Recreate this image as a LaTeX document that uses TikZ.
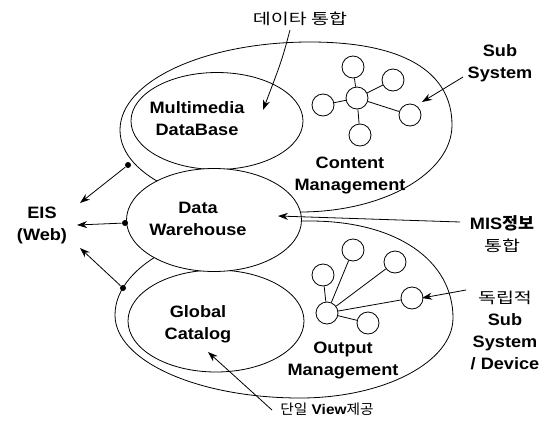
\documentclass[tikz,border=0pt]{standalone}
\usepackage{fontspec}
\setmainfont{Liberation Sans}[FakeStretch=1.1]
\newfontfamily\kr{Noto Sans CJK KR}[FakeStretch=1.3]
\newfontfamily\krn{Noto Sans CJK KR}[FakeStretch=1.05]
\usetikzlibrary{shapes.geometric,arrows.meta}
\begin{document}
\begin{tikzpicture}[x=1pt,y=-1pt,
  line width=0.8pt,
  lbl/.style={font=\fontsize{16.5}{22}\selectfont\bfseries, align=center, inner sep=0pt},
  krl/.style={font=\fontsize{15}{22}\selectfont\kr, align=center, inner sep=0pt},
  inner/.style={ellipse, draw, fill=white, inner sep=0pt},
  sat/.style={circle, draw, fill=white, minimum size=22pt, inner sep=0pt},
  arr/.style={-{Stealth[length=10pt,width=7pt]}},
  dot/.style={circle, fill=black, minimum size=6pt, inner sep=0pt}]
\path[use as bounding box] (0,0) rectangle (550,424);
% big outer shapes
\draw (120,130) .. controls (120,81) and (205,42) .. (310,42)
  .. controls (402,42) and (452,71) .. (452,125)
  .. controls (452,173) and (384,212) .. (300,212)
  .. controls (200,212) and (120,178) .. cycle;
\draw (115,315) .. controls (115,263) and (198,221) .. (310,221)
  .. controls (396,221) and (453,260) .. (453,318)
  .. controls (453,362) and (384,398) .. (300,398)
  .. controls (198,398) and (115,361) .. cycle;
% inner ellipses
\node[inner, minimum width=172pt, minimum height=97pt] (mdb) at (217,121) {};
\node[inner, minimum width=176pt, minimum height=102pt] (gc) at (216,321) {};
\node[inner, minimum width=175pt, minimum height=103pt] (dw) at (214,220) {};
% labels inside
\node[lbl] (tmdb) at (197,119) {Multimedia\\DataBase};
\node[lbl] (tdw) at (198,219) {Data\\Warehouse};
\node[lbl] (tgc) at (198,324) {Global\\Catalog};
\node[lbl] (tcm) at (350,175) {Content\\Management};
\node[lbl] (tom) at (343,360) {Output\\Management};
% top subsystem
\node[sat] (h1) at (357,98) {};
\node[sat] (a1) at (353,67) {};
\node[sat] (a2) at (393,80) {};
\node[sat] (a3) at (323,105) {};
\node[sat] (a4) at (410,115) {};
\node[sat] (a5) at (360,135) {};
\foreach \s in {a1,a2,a3,a4,a5} \draw (h1) -- (\s);
% bottom subsystem
\node[sat] (h2) at (327,313) {};
\node[sat] (b1) at (323,275) {};
\node[sat] (b2) at (353,250) {};
\node[sat] (b3) at (395,262) {};
\node[sat] (b4) at (412,298) {};
\node[sat] (b5) at (368,323) {};
\foreach \s in {b1,b2,b3,b4,b5} \draw (h2) -- (\s);
% outside labels
\node[krl] (tdi) at (300,19) {데이타 통합};
\node[lbl] (tss) at (500,63) {Sub\\System};
\node[lbl] (eis) at (42,225) {EIS\\(Web)};
\node[font=\fontsize{16.5}{22}\selectfont, align=center, inner sep=0pt] (mis) at (502,234) {\bfseries MIS{\krn 정보}\\{\mdseries\fontsize{15}{22}\selectfont\kr 통합}};
\node[font=\fontsize{16.5}{22}\selectfont, align=center, inner sep=0pt] (ind) at (505,330) {{\fontsize{15}{22}\selectfont\kr 독립적}\\\bfseries Sub\\\bfseries System\\\bfseries / Device};
\node[font=\fontsize{14}{22}\selectfont, inner sep=0pt] (view) at (327,409) {{\krn 단일} {\bfseries View}{\krn 제공}};
% dots and coordinates
\node[dot] (d1) at (128,165) {};
\node[dot] (d2) at (125,223) {};
\node[dot] (d3) at (123,288) {};
\coordinate (e1) at (80,203);
\coordinate (e2) at (77,225);
\coordinate (e3) at (80,248);
\draw[arr] (d1) -- (e1);
\draw[arr] (d2) -- (e2);
\draw[arr] (d3) -- (e3);
% other arrows
\coordinate (s1) at (290,30);
\coordinate (t1) at (263,110);
\draw[arr] (s1) .. controls (282,60) .. (t1);
\coordinate (s2) at (463,77);
\coordinate (t2) at (422,102);
\draw[arr] (s2) -- (t2);
\coordinate (s3) at (460,222);
\coordinate (t3) at (278,216);
\draw[arr] (s3) -- (t3);
\coordinate (s4) at (466,290);
\coordinate (t4) at (422,298);
\draw[arr] (s4) -- (t4);
\coordinate (s5) at (272,410);
\coordinate (t5) at (208,352);
\draw[arr] (s5) -- (t5);
\end{tikzpicture}
\end{document}
